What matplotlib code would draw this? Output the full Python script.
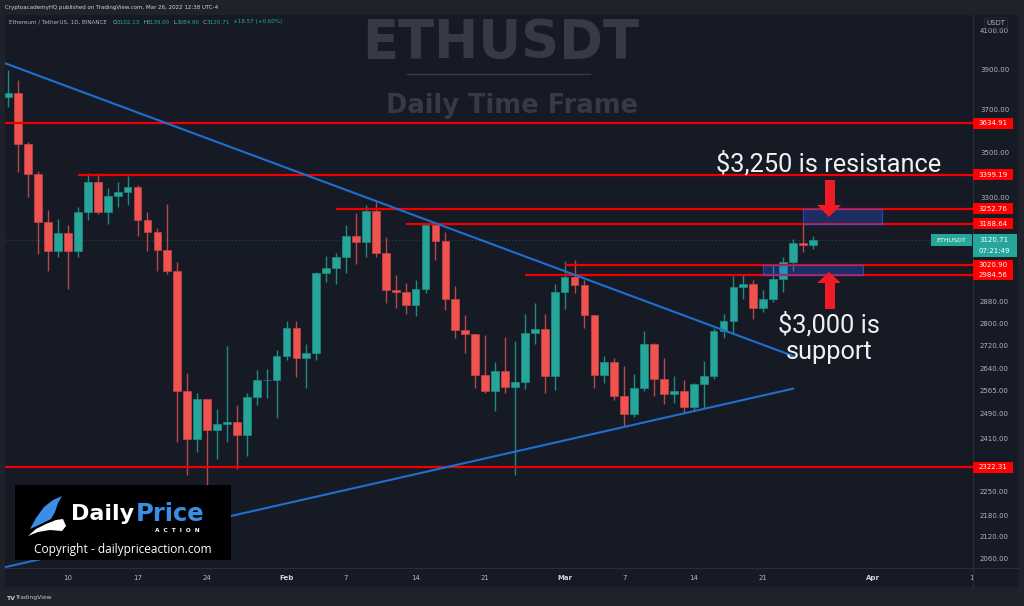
import numpy as np
import pandas as pd
import matplotlib
matplotlib.use("Agg")
import matplotlib.pyplot as plt
import matplotlib.ticker as mticker
from matplotlib.patches import Rectangle, Polygon
from matplotlib.lines import Line2D
from matplotlib.transforms import Affine2D

# ---------------- data ----------------
dates = pd.date_range("2022-01-04", "2022-03-26", freq="D")
opens = [3763, 3783, 3537, 3403, 3195, 3078, 3151, 3079, 3237, 3369,
         3237, 3305, 3325, 3345, 3206, 3156, 3081, 2997, 2565, 2409,
         2537, 2436, 2457, 2462, 2421, 2543, 2600, 2602, 2685, 2785,
         2678, 2693, 2992, 3009, 3053, 3139, 3113, 3242, 3069, 2925,
         2916, 2869, 2928, 3184, 3119, 2890, 2776, 2762, 2618, 2565,
         2633, 2579, 2593, 2767, 2779, 2615, 2919, 2974, 2944, 2831,
         2618, 2664, 2548, 2489, 2573, 2725, 2604, 2554, 2565, 2512,
         2588, 2616, 2773, 2810, 2937, 2948, 2858, 2890, 2967, 3035,
         3109, 3102.13]
highs = [3897, 3846, 3549, 3416, 3247, 3209, 3184, 3261, 3408, 3408,
         3342, 3369, 3394, 3354, 3240, 3173, 3271, 3035, 2624, 2557,
         2538, 2505, 2719, 2518, 2559, 2635, 2638, 2705, 2809, 2809,
         2725, 2993, 3058, 3071, 3184, 3233, 3268, 3282, 3136, 2983,
         2951, 2964, 3194, 3191, 3156, 2940, 2831, 2763, 2758, 2664,
         2752, 2737, 2834, 2875, 2834, 2948, 3038, 3042, 2964, 2832,
         2684, 2676, 2649, 2622, 2773, 2731, 2676, 2615, 2601, 2592,
         2668, 2785, 2834, 2979, 2983, 2964, 2925, 3026, 3052, 3125,
         3191, 3139.00]
lows = [3713, 3413, 3301, 3065, 3000, 3055, 2928, 3053, 3205, 3230,
        3187, 3261, 3269, 3140, 3079, 3000, 2987, 2400, 2298, 2369,
        2160, 2347, 2400, 2315, 2356, 2518, 2540, 2475, 2670, 2613,
        2573, 2670, 2957, 2948, 2992, 3025, 3055, 3055, 2877, 2856,
        2835, 2829, 2913, 3042, 2850, 2749, 2693, 2573, 2557, 2499,
        2559, 2298, 2570, 2726, 2557, 2568, 2852, 2915, 2785, 2573,
        2590, 2534, 2451, 2478, 2565, 2548, 2521, 2524, 2493, 2501,
        2508, 2604, 2747, 2767, 2890, 2815, 2844, 2880, 2919, 2998,
        3075, 3084.90]
closes = [3783, 3537, 3403, 3195, 3078, 3151, 3079, 3237, 3369, 3237,
          3305, 3325, 3345, 3206, 3156, 3081, 2997, 2565, 2409, 2537,
          2436, 2457, 2462, 2421, 2543, 2600, 2602, 2685, 2785, 2678,
          2693, 2992, 3009, 3053, 3139, 3113, 3242, 3069, 2925, 2916,
          2869, 2928, 3184, 3119, 2890, 2776, 2762, 2618, 2565, 2633,
          2579, 2593, 2767, 2779, 2615, 2919, 2974, 2944, 2831, 2618,
          2664, 2548, 2489, 2573, 2725, 2604, 2554, 2565, 2512, 2588,
          2616, 2773, 2810, 2937, 2948, 2858, 2890, 2967, 3035, 3109,
          3102, 3120.71]

levels = [3634.91, 3399.19, 3252.76, 3188.64, 3020.90, 2984.56, 2322.31]
level_starts = [None, "2022-01-11", "2022-02-06", "2022-02-13",
                "2022-03-01", "2022-02-25", None]

upper_trend_dates = ["2022-01-03 16:00", "2022-03-24"]
upper_trend_prices = [3931, 2684]
lower_trend_dates = ["2022-01-03 16:00", "2022-03-24"]
lower_trend_prices = [2038, 2572]

resistance_zone = (3188.64, 3252.76, "2022-03-25", "2022-04-02")
support_zone = (2984.56, 3020.90, "2022-03-21", "2022-03-31")

ytick_values = [2060, 2120, 2180, 2250, 2410, 2490, 2565, 2640, 2720,
                2800, 2880, 3300, 3500, 3700, 3900, 4100]
xtick_dates = ["2022-01-10", "2022-01-17", "2022-01-24", "2022-02-01",
               "2022-02-07", "2022-02-14", "2022-02-21", "2022-03-01",
               "2022-03-07", "2022-03-14", "2022-03-21", "2022-04-01",
               "2022-04-11"]
xtick_labels = ["10", "17", "24", "Feb", "7", "14", "21", "Mar", "7",
                "14", "21", "Apr", "1"]

last_price = 3120.71
change_text = "+18.57 (+0.60%)"
countdown = "07:21:49"

# ---------------- style ----------------
OUTER = "#1f222b"
PANEL = "#161a25"
SEP = "#2a2e39"
GREEN = "#26a69a"
RED = "#ef5350"
LEVEL_RED = "#f00000"
BLUE = "#1e6fd0"
TXT = "#b2b5be"

W, H = 1024, 606
fig = plt.figure(figsize=(W / 100, H / 100), dpi=100, facecolor=OUTER)
pix = Affine2D().scale(1 / W, -1 / H).translate(0, 1) + fig.transFigure

fig.patches.append(Rectangle((5, 15), 1013, 572, transform=pix, fc=PANEL,
                             ec="none", zorder=-5))

ax = fig.add_axes([5 / W, (H - 568) / H, 968 / W, 553 / H])
ax.set_facecolor(PANEL)
for s in ax.spines.values():
    s.set_visible(False)


def dx(s):
    return (pd.Timestamp(s) - dates[0]) / pd.Timedelta(days=1)


x = np.asarray((dates - dates[0]) / pd.Timedelta(days=1), dtype=float)
o = np.array(opens, float)
h = np.array(highs, float)
l = np.array(lows, float)
c = np.array(closes, float)
up = c >= o

XMIN, XMAX = -0.343, 97.12
ax.set_yscale("log")
ax.set_xlim(XMIN, XMAX)
ax.set_ylim(2035.8, 4186.4)

# candles
ax.vlines(x, l, h, colors=np.where(up, "#1f8a80", "#b8474a"), lw=1.0, zorder=3)
ax.bar(x, np.abs(c - o), bottom=np.minimum(o, c), width=0.78,
       color=np.where(up, GREEN, RED), edgecolor=np.where(up, "#1f8d83", "#c94346"),
       linewidth=0.5, zorder=4)

# current price dotted line
ax.axhline(last_price, color=GREEN, lw=0.8, ls=(0, (1, 2)), alpha=0.35, zorder=2)

# horizontal levels
for p, st in zip(levels, level_starts):
    x0 = XMIN if st is None else dx(st)
    ax.plot([x0, XMAX], [p, p], color=LEVEL_RED, lw=1.6, zorder=5,
            solid_capstyle="butt")

# trend lines
ax.plot([dx(d) for d in upper_trend_dates], upper_trend_prices, color=BLUE,
        lw=1.5, zorder=5)
ax.plot([dx(d) for d in lower_trend_dates], lower_trend_prices, color=BLUE,
        lw=1.5, zorder=5)

# zones
for lo, hi, d0, d1 in (resistance_zone, support_zone):
    ax.add_patch(Rectangle((dx(d0), lo), dx(d1) - dx(d0), hi - lo,
                           fc=(0.16, 0.38, 1.0, 0.28), ec=(0.2, 0.4, 1.0, 0.55),
                           lw=0.9, zorder=6))

# axes ticks
ax.yaxis.tick_right()
ax.set_yticks(ytick_values)
ax.set_yticklabels([f"{v:.2f}" for v in ytick_values])
ax.yaxis.set_minor_locator(mticker.NullLocator())
ax.tick_params(axis="y", length=0, pad=5, labelsize=5, labelcolor=TXT)
ax.set_xticks([dx(d) for d in xtick_dates])
ax.set_xticklabels(xtick_labels)
ax.xaxis.set_minor_locator(mticker.NullLocator())
ax.tick_params(axis="x", length=0, pad=5, labelsize=5, labelcolor=TXT)
for t in ax.get_xticklabels():
    if t.get_text() in ("Feb", "Mar", "Apr"):
        t.set_fontweight("bold")
        t.set_color("#d1d4dc")

# separators
fig.lines.append(Line2D([973, 973], [15, 587], transform=pix, color=SEP, lw=0.8))
fig.lines.append(Line2D([5, 1018], [568, 568], transform=pix, color=SEP, lw=0.8))


def y_px(p):
    return H - ax.transData.transform((0, p))[1]


# price labels on axis
for p in levels:
    yp = y_px(p)
    fig.patches.append(Rectangle((973, yp - 5.5), 40, 11, transform=pix,
                                 fc="#ff0000", ec="none", zorder=6))
    fig.text(993, yp, f"{p:.2f}", transform=pix, ha="center", va="center",
             fontsize=5, color="white", zorder=7)

yp = y_px(last_price)
fig.patches.append(Rectangle((973, yp - 6), 44, 23, transform=pix, fc=GREEN,
                             ec="none", zorder=6))
fig.text(994, yp, f"{last_price:.2f}", transform=pix, ha="center", va="center",
         fontsize=5, color="white", zorder=7)
fig.text(994, yp + 11, countdown, transform=pix, ha="center", va="center",
         fontsize=5, color="white", zorder=7)
fig.patches.append(Rectangle((931, yp - 6), 41, 12, transform=pix, fc=GREEN,
                             ec="none", zorder=6))
fig.text(951.5, yp, "ETHUSDT", transform=pix, ha="center", va="center",
         fontsize=4.6, color="white", zorder=7)

fig.text(996, 23, "USDT", transform=pix, ha="center", va="center", fontsize=5,
         color=TXT, zorder=8,
         bbox=dict(boxstyle="round,pad=0.3", fc=PANEL, ec=SEP, lw=0.6))

# header
fig.text(5, 7, "CryptoacademyHQ published on TradingView.com, Mar 26, 2022 12:38 UTC-4",
         transform=pix, ha="left", va="center", fontsize=4, color="#d1d4dc")
fig.text(9, 22, "Ethereum / TetherUS, 1D, BINANCE", transform=pix, ha="left",
         va="center", fontsize=4.1, color=TXT)
legend_items = [(113, "O", 117, f"{opens[-1]:.2f}"), (144, "H", 147, f"{highs[-1]:.2f}"),
                (174, "L", 177, f"{lows[-1]:.2f}"), (203, "C", 207, f"{closes[-1]:.2f}")]
for lx, lt, vx, vt in legend_items:
    fig.text(lx, 22, lt, transform=pix, ha="left", va="center", fontsize=4.1, color=TXT)
    fig.text(vx, 22, vt, transform=pix, ha="left", va="center", fontsize=4.1, color=GREEN)
fig.text(233, 22, change_text, transform=pix,
         ha="left", va="center", fontsize=4.1, color=GREEN)

# watermark title
fig.text(501, 43, "ETHUSDT", transform=pix, ha="center", va="center", fontsize=38,
         fontweight="bold", color="#363a45", family="DejaVu Sans")
fig.lines.append(Line2D([407, 590], [74, 74], transform=pix, color="#363a45", lw=1))
fig.text(512, 106, "Daily Time Frame", transform=pix, ha="center", va="center",
         fontsize=18.5, fontweight="bold", color="#363a45", family="DejaVu Sans")

# annotations
fig.text(829, 164, "$3,250 is resistance", transform=pix, ha="center", va="center",
         fontsize=18.3, color="#f0f0f0", family="Roboto")
fig.text(829, 325, "$3,000 is", transform=pix, ha="center", va="center",
         fontsize=18.3, color="#f0f0f0", family="Roboto")
fig.text(829, 352, "support", transform=pix, ha="center", va="center",
         fontsize=18.3, color="#f0f0f0", family="Roboto")
ARROW = "#ee1c25"
fig.patches.append(Polygon([(825, 180), (835, 180), (835, 205), (841, 205), (829, 217),
                            (817, 205), (825, 205)], closed=True, transform=pix,
                           fc=ARROW, ec="none", zorder=7))
fig.patches.append(Polygon([(825, 309), (835, 309), (835, 283), (841, 283), (829, 272),
                            (817, 283), (825, 283)], closed=True, transform=pix,
                           fc=ARROW, ec="none", zorder=7))

# logo box
fig.patches.append(Rectangle((15, 485), 216, 75, transform=pix, fc="black", ec="none", zorder=8))
fig.patches.append(Polygon([(30, 529), (36, 518), (44, 507), (53, 500), (62, 496),
                            (58, 503), (55, 512), (51, 519), (41, 524)], closed=True,
                           transform=pix, fc="#3a8ee6", ec="none", zorder=9))
fig.patches.append(Polygon([(28, 536), (36, 529), (46, 524), (56, 520), (63, 519),
                            (66, 526), (62, 531), (50, 530), (38, 532)], closed=True,
                           transform=pix, fc="white", ec="none", zorder=9))
fig.text(71, 514, "Daily", transform=pix, ha="left", va="center", fontsize=16,
         fontweight="bold", color="white", family="DejaVu Sans", zorder=10)
fig.text(136, 514, "Price", transform=pix, ha="left", va="center", fontsize=17.5,
         fontweight="bold", color="#3a8ee6", family="DejaVu Sans", zorder=10)
fig.text(177, 530, "A  C  T  I  O  N", transform=pix, ha="center", va="center",
         fontsize=4.2, fontweight="bold", color="white", zorder=10)
fig.text(123, 550, "Copyright - dailypriceaction.com", transform=pix, ha="center",
         va="center", fontsize=8.6, color="white", family="Open Sans", zorder=10)

# footer
fig.text(6, 598, "TV", transform=pix, ha="left", va="center", fontsize=4.5,
         fontweight="bold", color="#c8cad0")
fig.text(15, 598, "TradingView", transform=pix, ha="left", va="center", fontsize=4.3,
         color="#c8cad0")

fig.savefig("out.png", dpi=100, facecolor=OUTER)
